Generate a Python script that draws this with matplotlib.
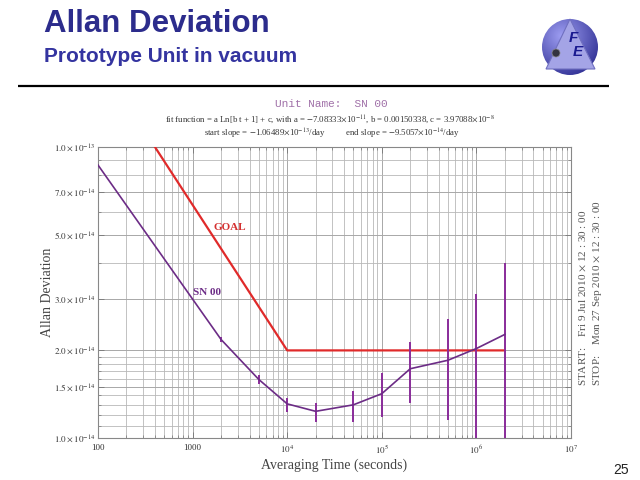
import numpy as np
import matplotlib
matplotlib.use("Agg")
import matplotlib.pyplot as plt
from matplotlib.patches import Circle, Polygon
from matplotlib.ticker import FixedLocator, FixedFormatter, NullFormatter

plt.rcParams['mathtext.fontset'] = 'stix'
plt.rcParams['font.family'] = ['Liberation Serif', 'DejaVu Serif']

# ---- data ----
tau = [100, 2000, 5000, 1e4, 2e4, 5e4, 1e5, 2e5, 5e5, 1e6, 2e6]
adev = [8.67e-14, 2.18e-14, 1.59e-14, 1.31e-14, 1.235e-14, 1.30e-14,
        1.42e-14, 1.73e-14, 1.85e-14, 2.03e-14, 2.27e-14]
err_hi = [8.67e-14, 2.23e-14, 1.646e-14, 1.368e-14, 1.32e-14, 1.45e-14,
          1.668e-14, 2.14e-14, 2.56e-14, 3.12e-14, 4.0e-14]
err_lo = [8.67e-14, 2.14e-14, 1.53e-14, 1.23e-14, 1.138e-14, 1.138e-14,
          1.184e-14, 1.316e-14, 1.153e-14, 0.5e-14, 0.5e-14]

goal_tau = [400, 1e4, 2e6]
goal_val = [1.0e-13, 2.0e-14, 2.0e-14]

ytick_vals = [1.0e-14, 1.5e-14, 2.0e-14, 3.0e-14, 5.0e-14, 7.0e-14, 1.0e-13]
ytick_labels = [r'$1.0\times10^{-14}$', r'$1.5\times10^{-14}$', r'$2.0\times10^{-14}$',
                r'$3.0\times10^{-14}$', r'$5.0\times10^{-14}$', r'$7.0\times10^{-14}$',
                r'$1.0\times10^{-13}$']
ygrid_minor = [1.1e-14, 1.2e-14, 1.3e-14, 1.4e-14, 1.6e-14, 1.7e-14, 1.8e-14,
               1.9e-14, 4e-14, 6e-14, 8e-14, 9e-14]
xtick_vals = [1e2, 1e3, 1e4, 1e5, 1e6, 1e7]
xtick_labels = ['100', '1000', r'$10^4$', r'$10^5$', r'$10^6$', r'$10^7$']

fig = plt.figure(figsize=(6.4, 4.8), dpi=100)

# ---- overlay in pixel coordinates for header / logo ----
ov = fig.add_axes([0, 0, 1, 1], zorder=0)
ov.set_xlim(0, 640)
ov.set_ylim(480, 0)
ov.axis('off')

ov.text(44, 24, 'Allan Deviation', family='Liberation Sans', fontweight='bold',
        fontsize=22.5, color='#2c2c8c', va='center', ha='left')
ov.text(44, 57, 'Prototype Unit in vacuum', family='Liberation Sans', fontweight='bold',
        fontsize=15, color='#3434a0', va='center', ha='left')
ov.plot([18, 609], [86, 86], color='black', lw=1.6, solid_capstyle='butt')
ov.text(621, 470, '25', family='Liberation Sans', fontsize=10, color='#222222',
        ha='center', va='center')

# logo
cx, cy, r = 570, 47, 28
yy, xx = np.mgrid[0:1:200j, 0:1:200j]
d = np.sqrt((xx - 0.35) ** 2 + (yy - 0.3) ** 2)
grad = np.clip(d / 0.85, 0, 1)
c_light = np.array([0.62, 0.62, 0.95])
c_dark = np.array([0.15, 0.15, 0.55])
img = c_light[None, None, :] * (1 - grad[..., None]) + c_dark[None, None, :] * grad[..., None]
im = ov.imshow(img, extent=(cx - r, cx + r, cy + r, cy - r), zorder=2)
circ = Circle((cx, cy), r, transform=ov.transData, facecolor='none', edgecolor='none')
ov.add_patch(circ)
im.set_clip_path(circ)
tri = Polygon([[570, 19], [546, 69], [595, 69]], closed=True,
              facecolor='#a4a4e6', edgecolor='#7070c0', lw=0.8, zorder=3)
ov.add_patch(tri)
ov.text(573, 38, 'F', family='Liberation Sans', fontweight='bold', style='italic',
        fontsize=11, color='#1a1a90', ha='center', va='center', zorder=4)
ov.text(578, 52, 'E', family='Liberation Sans', fontweight='bold', style='italic',
        fontsize=11, color='#1a1a90', ha='center', va='center', zorder=4)
ov.add_patch(Circle((556, 53), 4, facecolor='#333340', edgecolor='#888888', lw=0.5, zorder=4))

# ---- main plot ----
ax = fig.add_axes([98 / 640, 1 - 438 / 480, (571 - 98) / 640, (438 - 147) / 480], zorder=1)
ax.set_xscale('log')
ax.set_yscale('log')
ax.set_xlim(1e2, 1e7)
ax.set_ylim(1e-14, 1e-13)

ax.set_yticks(ytick_vals)
ax.yaxis.set_major_formatter(FixedFormatter(ytick_labels))
ax.yaxis.set_minor_locator(FixedLocator(ygrid_minor))
ax.yaxis.set_minor_formatter(NullFormatter())
ax.set_xticks(xtick_vals)
ax.set_xticklabels(xtick_labels)
ax.xaxis.set_minor_formatter(NullFormatter())

ax.grid(which='major', color='#a8a8a8', lw=0.7)
ax.grid(which='minor', color='#b8b8b8', lw=0.6)
ax.set_axisbelow(True)
ax.tick_params(which='both', direction='in', top=True, right=True, colors='#777777',
               labelcolor='#333333', labelsize=6.5)
ax.tick_params(axis='y', pad=2)
ax.tick_params(axis='x', pad=4)
ax.tick_params(which='major', length=4, width=0.6)
ax.tick_params(which='minor', length=2, width=0.5)
for s in ax.spines.values():
    s.set_color('#888888')
    s.set_linewidth(0.8)

# goal
ax.plot(goal_tau, goal_val, color='#e02a2a', lw=1.6, zorder=3)

# SN 00 with error bars
t = np.array(tau)
a = np.array(adev)
lo = a - np.array(err_lo)
hi = np.array(err_hi) - a
ax.errorbar(t[1:], a[1:], yerr=[lo[1:], hi[1:]], fmt='none', ecolor='#8a2c9a',
            elinewidth=1.4, capsize=0, zorder=4)
ax.plot(t, a, color='#6c2c86', lw=1.2, zorder=5)

ax.text(2500, 5.3e-14, 'GOAL', color='#d43030', fontweight='bold', fontsize=8,
        ha='center', va='center')
ax.text(1420, 3.15e-14, 'SN 00', color='#6c2c86', fontweight='bold', fontsize=8,
        ha='center', va='center')

ax.set_ylabel('Allan Deviation', fontsize=10, color='#444444', labelpad=0)
ax.set_xlabel('Averaging Time (seconds)', fontsize=10, color='#444444', labelpad=2)

# ---- header texts above the plot ----
fig.text(331 / 640, 1 - 104 / 480, 'Unit Name:  SN 00', family='Liberation Mono',
         fontsize=8, color='#a070a8', ha='center', va='center')
fig.text(330 / 640, 1 - 120 / 480,
         r'fit function = a Ln[b t + 1] + c, with a = $-$7.08333$\times$10$^{-11}$, '
         r'b = 0.00150338, c = 3.97088$\times$10$^{-8}$',
         fontsize=6.3, color='#333333', ha='center', va='center')
fig.text(332 / 640, 1 - 134 / 480,
         r'start slope = $-$1.06489$\times$10$^{-13}$/day          '
         r'end slope = $-$9.5057$\times$10$^{-14}$/day',
         fontsize=6.3, color='#333333', ha='center', va='center')

# start / stop rotated
fig.text(583 / 640, 1 - 386 / 480, 'START:    Fri 9 Jul 2010 $\\times$ 12 : 30 : 00',
         rotation=90, fontsize=8, color='#555555', ha='center', va='bottom')
fig.text(597 / 640, 1 - 386 / 480, 'STOP:    Mon 27 Sep 2010 $\\times$ 12 : 30 : 00',
         rotation=90, fontsize=8, color='#555555', ha='center', va='bottom')

fig.savefig('out.png', dpi=100)
